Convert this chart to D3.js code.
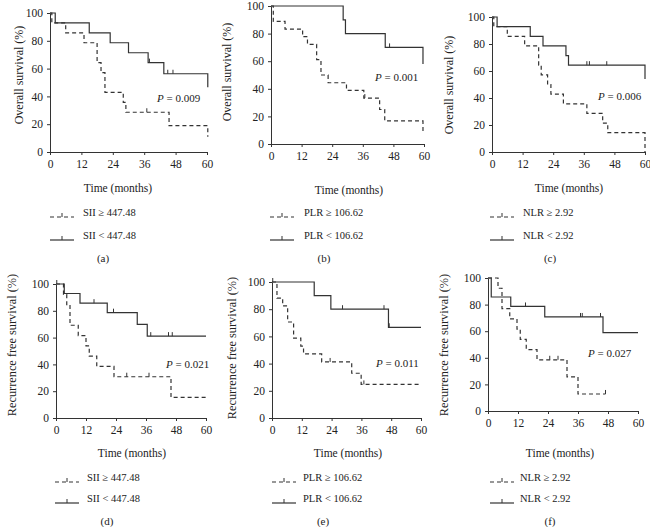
<!DOCTYPE html>
<html><head><meta charset="utf-8">
<script src="https://cdn.jsdelivr.net/npm/d3@7"></script>
<style>
body{margin:0;background:#fff}
svg{display:block}
text{font-family:"Liberation Serif","DejaVu Serif",serif;fill:#222}
</style>
</head><body><svg id="c" width="650" height="527"></svg>
<script>
// ---- tick labels ----
const xTicks = [0, 12, 24, 36, 48, 60];
const yTicks = [0, 20, 40, 60, 80, 100];

// ---- (a) Overall survival, SII ----
const aHighT = [0.7, 6, 13, 18, 19.5, 21, 28, 29, 45.5, 60.3];
const aHighS = [92.9, 85.7, 78.6, 64.3, 57.1, 42.9, 35.7, 28.6, 19, 11];
const aHighC = [37];
const aLowT = [2, 15, 23, 30, 37.5, 43.5, 60.3];
const aLowS = [92.9, 85.7, 78.6, 71.4, 64.3, 56.3, 46.5];
const aLowC = [38, 45, 47];

// ---- (b) Overall survival, PLR ----
const bHighT = [0.9, 5.5, 12.4, 14.3, 17.9, 19.6, 22.4, 29.6, 36.4, 42.6, 44.6, 59.6];
const bHighS = [88.9, 83.3, 77.8, 72.2, 61.1, 50, 44.4, 38.9, 33.3, 25, 16.7, 8.3];
const bHighC = [36.8];
const bLowT = [28.3, 29.2, 44.8, 59.6];
const bLowS = [90, 80, 70, 58];
const bLowC = [46.5];

// ---- (c) Overall survival, NLR ----
const cHighT = [0.7, 6, 12.8, 18.3, 19.3, 21.8, 23.1, 28, 37.2, 43.4, 45.4, 60];
const cHighS = [92.9, 85.7, 78.6, 64.3, 57.1, 50, 42.9, 35.7, 28.6, 21.4, 14.3, 0];
const cHighC = [];
const cLowT = [2, 15, 20, 29, 30, 60];
const cLowS = [92.9, 85.7, 78.6, 71.4, 64.3, 54];
const cLowC = [37.2, 38.2, 45];

// ---- (d) Recurrence free survival, SII ----
const dHighT = [3, 4.3, 5.6, 8.9, 12, 13.3, 16.3, 23.2, 46];
const dHighS = [92.3, 84.6, 69.2, 61.5, 53.8, 46.2, 38.5, 30.8, 15.4];
const dHighC = [28.3, 37.2];
const dLowT = [3.3, 9.6, 20.5, 32.5, 36.5];
const dLowS = [92.9, 85.7, 78.6, 69.8, 61.1];
const dLowC = [0.3, 15.2, 23, 37.9, 45, 46.5];

// ---- (e) Recurrence free survival, PLR ----
const eHighT = [2, 4.3, 6.3, 8.7, 11.6, 12.7, 20, 32.1, 35.9];
const eHighS = [88.2, 82.4, 70.6, 58.8, 52.9, 47.1, 41.2, 32.9, 24.7];
const eHighC = [23.4, 37];
const eLowT = [17, 23.7, 46.9];
const eLowS = [90, 80, 66.7];
const eLowC = [0.3, 28.4, 45.1, 47.2];

// ---- (f) Recurrence free survival, NLR ----
const fHighT = [4, 5.6, 8.7, 11.6, 12.9, 15.3, 19.6, 31.6, 36];
const fHighS = [92.3, 76.9, 69.2, 61.5, 53.8, 46.2, 38.5, 25.6, 12.8];
const fHighC = [24.7, 28, 47];
const fLowT = [1.3, 9.1, 22.7, 46];
const fLowS = [85.7, 78.6, 70.7, 58.9];
const fLowC = [15, 37, 37.7, 45];

// ---- text ----
const panelLetters = ["(a)", "(b)", "(c)", "(d)", "(e)", "(f)"];
const yTitles = ["Overall survival (%)", "Recurrence free survival (%)"];
const pValues = ["0.009", "0.001", "0.006", "0.021", "0.011", "0.027"];
const highLabels = ["SII \u2265 447.48", "PLR \u2265 106.62", "NLR \u2265 2.92", "SII \u2265 447.48", "PLR \u2265 106.62", "NLR \u2265 2.92"];
const lowLabels = ["SII < 447.48", "PLR < 106.62", "NLR < 2.92", "SII < 447.48", "PLR < 106.62", "NLR < 2.92"];
const xTitle = "Time (months)";

const series = [
  {high: [aHighT, aHighS, aHighC, 60.3], low: [aLowT, aLowS, aLowC, 60.3]},
  {high: [bHighT, bHighS, bHighC, 59.6], low: [bLowT, bLowS, bLowC, 59.6]},
  {high: [cHighT, cHighS, cHighC, 60], low: [cLowT, cLowS, cLowC, 60]},
  {high: [dHighT, dHighS, dHighC, 60], low: [dLowT, dLowS, dLowC, 60]},
  {high: [eHighT, eHighS, eHighC, 60], low: [eLowT, eLowS, eLowC, 60]},
  {high: [fHighT, fHighS, fHighC, 47], low: [fLowT, fLowS, fLowC, 60]}
];

// ---- layout (positions only) ----
const layout = [
  {x0: 50,  x1: 207, yt: 13,  yb: 152, ytx: 20,  yty: 75,  px: 157, py: 102, tx: 118, ty: 189, lx: 50,  ltx: 83,  r1: 214, r2: 237, lex: 103, ley: 259},
  {x0: 271, x1: 424, yt: 6,   yb: 144, ytx: 228, yty: 72,  px: 375, py: 81,  tx: 349, ty: 191, lx: 270, ltx: 304, r1: 214, r2: 237, lex: 324, ley: 259},
  {x0: 492, x1: 645, yt: 17,  yb: 152, ytx: 450, yty: 85,  px: 598, py: 100, tx: 569, ty: 189, lx: 490, ltx: 523, r1: 214, r2: 237, lex: 550, ley: 259},
  {x0: 56,  x1: 206, yt: 284, yb: 418, ytx: 13,  yty: 345, px: 166, py: 368, tx: 132, ty: 454, lx: 55,  ltx: 87,  r1: 479, r2: 500, lex: 107, ley: 522},
  {x0: 272, x1: 421, yt: 282, yb: 418, ytx: 233, yty: 348, px: 376, py: 367, tx: 348, ty: 454, lx: 272, ltx: 303, r1: 479, r2: 500, lex: 323, ley: 522},
  {x0: 488, x1: 638, yt: 278, yb: 411, ytx: 445, yty: 345, px: 588, py: 357, tx: 560, ty: 454, lx: 490, ltx: 520, r1: 479, r2: 500, lex: 550, ley: 522}
];

const ink = "#333";
const dash = "4,3";
const svg = d3.select("#c");

function stepVal(T, S, t) {
  let s = 100;
  for (let i = 0; i < T.length; i++) if (T[i] <= t) s = S[i];
  return s;
}

layout.forEach((L, i) => {
  const x = d3.scaleLinear().domain([0, 60]).range([L.x0, L.x1]);
  const y = d3.scaleLinear().domain([0, 100]).range([L.yb, L.yt]);
  const g = svg.append("g");

  const ax = g.append("g").attr("transform", `translate(0,${L.yb})`)
    .call(d3.axisBottom(x).tickValues(xTicks).tickSize(3).tickSizeOuter(0).tickPadding(5));
  const ay = g.append("g").attr("transform", `translate(${L.x0},0)`)
    .call(d3.axisLeft(y).tickValues(yTicks).tickSize(3).tickSizeOuter(0).tickPadding(4));
  [ax, ay].forEach(a => {
    a.select(".domain").attr("stroke", ink).attr("stroke-width", 1);
    a.selectAll(".tick line").attr("stroke", ink);
    a.selectAll(".tick text").attr("font-family", "Liberation Serif, serif").attr("font-size", 11.5).attr("fill", "#222");
  });

  const line = d3.line().x(d => x(d[0])).y(d => y(d[1])).curve(d3.curveStepAfter);
  const S = series[i];
  [["high", dash], ["low", null]].forEach(([key, da]) => {
    const [T, V, C, end] = S[key];
    const pts = [[0, 100]].concat(T.map((t, k) => [t, V[k]]));
    if (end > T[T.length - 1]) pts.push([end, V[V.length - 1]]);
    g.append("path").attr("d", line(pts)).attr("fill", "none")
      .attr("stroke", ink).attr("stroke-width", 1.2)
      .attr("stroke-dasharray", da);
    C.forEach(c => {
      const s = stepVal(T, V, c);
      g.append("line").attr("x1", x(c)).attr("x2", x(c))
        .attr("y1", y(s)).attr("y2", y(s) - 4)
        .attr("stroke", ink).attr("stroke-width", 1);
    });
  });

  // y title
  g.append("text").attr("transform", `translate(${L.ytx},${L.yty}) rotate(-90)`)
    .attr("text-anchor", "middle").attr("dominant-baseline", "middle")
    .attr("font-size", i < 3 ? 12 : 12.3).text(yTitles[i < 3 ? 0 : 1]);

  // p value
  const pt = g.append("text").attr("x", L.px).attr("y", L.py).attr("font-size", 11);
  pt.append("tspan").attr("font-style", "italic").text("P");
  pt.append("tspan").text(" = " + pValues[i]);

  // x title
  g.append("text").attr("x", L.tx).attr("y", L.ty).attr("text-anchor", "middle")
    .attr("dominant-baseline", "middle").attr("font-size", 11.5).text(xTitle);

  // legend
  [[L.r1, dash, highLabels[i]], [L.r2, null, lowLabels[i]]].forEach(([ry, da, lab]) => {
    g.append("line").attr("x1", L.lx).attr("x2", L.lx + 24).attr("y1", ry + 3).attr("y2", ry + 3)
      .attr("stroke", ink).attr("stroke-width", 1.2).attr("stroke-dasharray", da);
    g.append("line").attr("x1", L.lx + 12).attr("x2", L.lx + 12).attr("y1", ry + 3).attr("y2", ry - 1)
      .attr("stroke", ink).attr("stroke-width", 1);
    g.append("text").attr("x", L.ltx).attr("y", ry).attr("dominant-baseline", "middle")
      .attr("font-size", 10.5).text(lab);
  });

  g.append("text").attr("x", L.lex).attr("y", L.ley).attr("text-anchor", "middle")
    .attr("dominant-baseline", "middle").attr("font-size", 11).text(panelLetters[i]);
});
</script>
</body></html>
